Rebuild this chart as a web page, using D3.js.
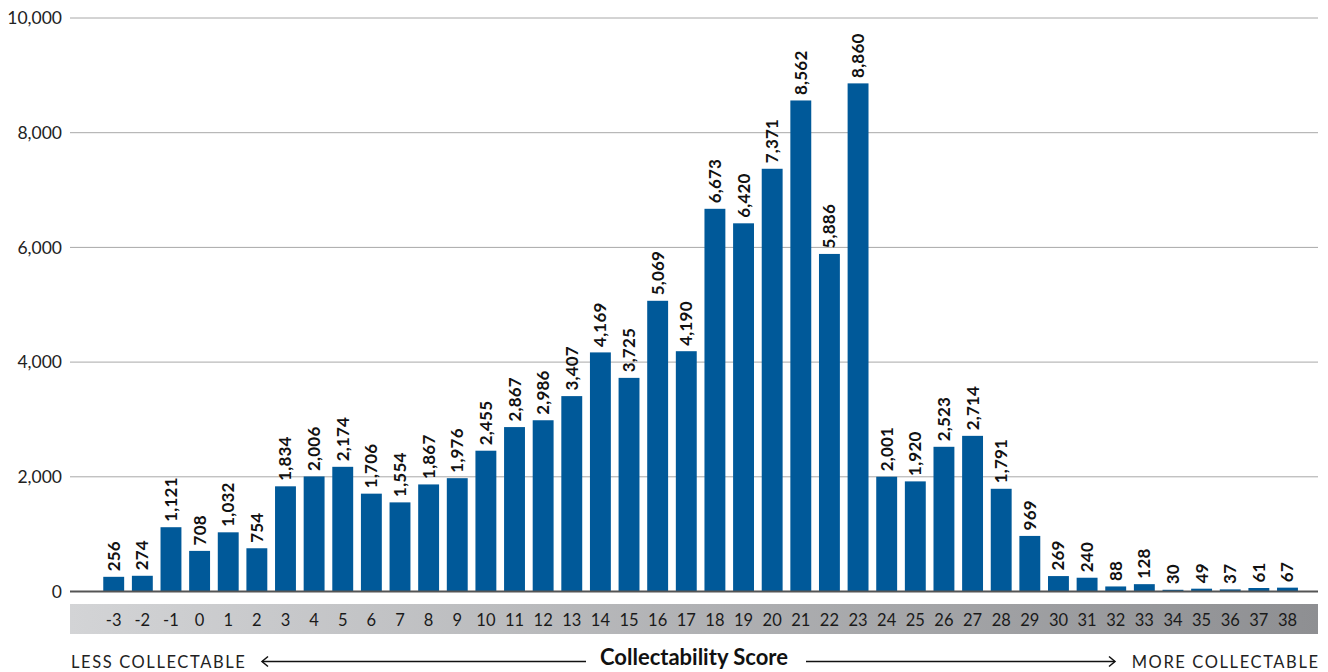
<!DOCTYPE html>
<html>
<head>
<meta charset="utf-8">
<script src="https://cdn.jsdelivr.net/npm/d3@7"></script>
<style>
  html, body { margin: 0; padding: 0; background: #fff; }
  svg { display: block; font-family: Lato, "Open Sans", sans-serif; }
</style>
</head>
<body>
<svg id="chart" width="1328" height="672"></svg>
<script>
// Collectability score buckets and the number of records in each
const scores = [-3, -2, -1, 0, 1, 2, 3, 4, 5, 6, 7, 8, 9, 10, 11, 12, 13, 14, 15, 16, 17,
  18, 19, 20, 21, 22, 23, 24, 25, 26, 27, 28, 29, 30, 31, 32, 33, 34, 35, 36, 37, 38];
const counts = [256, 274, 1121, 708, 1032, 754, 1834, 2006, 2174, 1706, 1554, 1867, 1976,
  2455, 2867, 2986, 3407, 4169, 3725, 5069, 4190, 6673, 6420, 7371, 8562, 5886, 8860,
  2001, 1920, 2523, 2714, 1791, 969, 269, 240, 88, 128, 30, 49, 37, 61, 67];
const yTicks = [0, 2000, 4000, 6000, 8000, 10000];
const axisTitle = "Collectability Score";
const leftNote = "LESS COLLECTABLE";
const rightNote = "MORE COLLECTABLE";

const data = scores.map((s, i) => ({ score: s, count: counts[i] }));

const svg = d3.select("#chart");
const plotLeft = 70, plotRight = 1318;
const fmt = d3.format(",");

const x = d3.scaleBand()
  .domain(scores)
  .range([99.4, 1301.8])
  .paddingInner(0.27)
  .paddingOuter(0.135);

const y = d3.scaleLinear().domain([0, 10000]).range([591.5, 18]);

// horizontal gridlines
svg.append("g")
  .selectAll("line")
  .data(yTicks.filter(d => d > 0))
  .join("line")
  .attr("x1", plotLeft).attr("x2", plotRight)
  .attr("y1", d => y(d)).attr("y2", d => y(d))
  .attr("stroke", "#a8a8a8").attr("stroke-width", 1);

// y tick labels
svg.append("g")
  .selectAll("text")
  .data(yTicks)
  .join("text")
  .attr("x", 62)
  .attr("y", d => y(d))
  .attr("dy", "0.35em")
  .attr("text-anchor", "end")
  .attr("font-size", 17.5)
  .attr("fill", "#222")
  .text(d => fmt(d));

// bars
svg.append("g")
  .selectAll("rect")
  .data(data)
  .join("rect")
  .attr("x", d => x(d.score))
  .attr("width", x.bandwidth())
  .attr("y", d => y(d.count))
  .attr("height", d => y(0) - y(d.count))
  .attr("fill", "#005999");

// value labels, rotated
svg.append("g")
  .selectAll("text")
  .data(data)
  .join("text")
  .attr("transform", d => `translate(${x(d.score) + x.bandwidth() / 2 + 6},${y(d.count) - 5.5}) rotate(-90)`)
  .attr("font-size", 17)
  .attr("font-weight", 700)
  .attr("letter-spacing", 0.2)
  .attr("fill", "#111")
  .text(d => fmt(d.count));

// baseline
svg.append("line")
  .attr("x1", plotLeft).attr("x2", plotRight)
  .attr("y1", y(0)).attr("y2", y(0))
  .attr("stroke", "#555").attr("stroke-width", 2);

// gradient band holding the category labels
const defs = svg.append("defs");
const grad = defs.append("linearGradient").attr("id", "bandGrad")
  .attr("x1", "0%").attr("x2", "100%").attr("y1", "0%").attr("y2", "0%");
grad.append("stop").attr("offset", "0%").attr("stop-color", "#d3d4d6");
grad.append("stop").attr("offset", "100%").attr("stop-color", "#8e8f92");

svg.append("rect")
  .attr("x", plotLeft).attr("y", 604)
  .attr("width", plotRight - plotLeft).attr("height", 30)
  .attr("fill", "url(#bandGrad)");

svg.append("g")
  .selectAll("text")
  .data(scores)
  .join("text")
  .attr("x", d => x(d) + x.bandwidth() / 2)
  .attr("y", 625.5)
  .attr("text-anchor", "middle")
  .attr("font-size", 16.5)
  .attr("fill", "#1a1a1a")
  .text(d => d);

// axis title with direction arrows
const ty = 661.5;
svg.append("text")
  .attr("x", plotLeft + 1).attr("y", 667.5)
  .attr("font-size", 16.5)
  .attr("letter-spacing", 1.6)
  .attr("fill", "#222")
  .text(leftNote);

svg.append("text")
  .attr("x", plotRight + 1.6).attr("y", 667.5)
  .attr("text-anchor", "end")
  .attr("font-size", 16.5)
  .attr("letter-spacing", 1.6)
  .attr("fill", "#222")
  .text(rightNote);

svg.append("text")
  .attr("x", 694).attr("y", 665)
  .attr("text-anchor", "middle")
  .attr("font-size", 22)
  .attr("font-weight", 700)
  .attr("fill", "#111")
  .text(axisTitle);

const arrow = svg.append("g").attr("stroke", "#111").attr("fill", "none").attr("stroke-width", 1.5);
// left arrow
arrow.append("line").attr("x1", 262).attr("x2", 586).attr("y1", ty).attr("y2", ty);
arrow.append("path").attr("d", `M${268},${ty - 5} L${262},${ty} L${268},${ty + 5}`);
// right arrow
arrow.append("line").attr("x1", 806).attr("x2", 1115).attr("y1", ty).attr("y2", ty);
arrow.append("path").attr("d", `M${1109},${ty - 5} L${1115},${ty} L${1109},${ty + 5}`);
</script>
</body>
</html>
